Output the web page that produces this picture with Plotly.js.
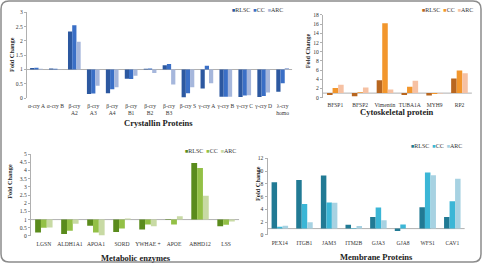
<!DOCTYPE html>
<html><head><meta charset="utf-8">
<script src="https://cdn.plot.ly/plotly-3.0.1.min.js"></script>
<style>html,body{margin:0;padding:0;background:#fff}#chart{width:482px;height:263px}</style>
</head><body><div id="chart"></div>
<script>
// ---- data ----
const seriesNames = ['RLSC', 'CC', 'ARC'];

const crystCats = ['α-cry A', 'α-cry B', 'β-cry<br>A2', 'β-cry<br>A3', 'β-cry<br>A4', 'β-cry<br>B1', 'β-cry<br>B2',
  'β-cry<br>B3', 'β-cry S', 'γ-cry A', 'γ-cry B', 'γ-cry C', 'γ-cry D', 'λ-cry<br>homo'];
const crystRLSC = [1.05, 1.04, 2.33, 0.14, 0.17, 0.68, 1.03, 1.15, 0.03, 0.34, 0.05, 0.04, 0.04, 0.22];
const crystCC   = [1.06, 1.03, 2.55, 0.16, 0.31, 0.67, 1.04, 1.19, 0.17, 1.13, 0.05, 0.09, 0.07, 0.52];
const crystARC  = [1.03, 1.01, 1.97, 0.43, 0.38, 0.78, 0.88, 0.48, 0.38, 0.52, 0.05, 0.10, 0.20, 1.05];

const cytoCats = ['BFSP1', 'BFSP2', 'Vimentin', 'TUBA1A', 'MYH9', 'RP2'];
const cytoRLSC = [0.6, 0.3, 3.8, 0.6, 0.5, 4.2];
const cytoCC   = [2.1, 1.2, 16.2, 2.4, 0.8, 5.9];
const cytoARC  = [2.8, 2.2, 1.8, 3.7, 0.9, 5.3];

const metaCats = ['LGSN', 'ALDH1A1', 'APOA1', 'SORD', 'YWHAE +', 'APOE', 'ABHD12', 'LSS'];
const metaRLSC = [0.22, 0.12, 0.63, 0.25, 0.40, 0.98, 4.45, 0.60];
const metaCC   = [0.50, 0.32, 0.22, 0.45, 0.70, 0.70, 4.15, 0.68];
const metaARC  = [0.52, 0.74, 0.05, 1.07, 0.60, 1.20, 2.45, 0.88];

const membCats = ['PEX14', 'ITGB1', 'JAM3', 'ITM2B', 'GJA3', 'GJA8', 'WFS1', 'CAV1'];
const membRLSC = [8.25, 8.6, 9.3, 1.6, 2.8, 0.63, 4.35, 2.8];
const membCC   = [1.3, 4.85, 5.1, 1.1, 4.3, 1.65, 9.8, 5.3];
const membARC  = [1.45, 2.0, 5.05, 1.4, 2.3, 1.0, 9.35, 8.8];

const baseValue = 1; // fold change baseline

// ---- styles ----
const serif = 'Liberation Serif';
const panels = [
  {cats: crystCats, vals: [crystRLSC, crystCC, crystARC], colors: ['#2c58a0', '#3a6fc6', '#a6b7dc'],
   ax: '', xd: [0.056, 0.606], yd: [0.627, 0.953], yr: [0, 3], dt: 0.5, lx: 0.592, ly: 0.962},
  {cats: cytoCats, vals: [cytoRLSC, cytoCC, cytoARC], colors: ['#b8661f', '#f2962c', '#f6c1a3'],
   ax: '2', xd: [0.670, 0.979], yd: [0.6285, 0.943], yr: [0, 18], dt: 2, lx: 0.985, ly: 0.962},
  {cats: metaCats, vals: [metaRLSC, metaCC, metaARC], colors: ['#5a8b1c', '#93c046', '#c8daa4'],
   ax: '3', xd: [0.064, 0.496], yd: [0.1027, 0.4144], yr: [0, 5], dt: 0.5, lx: 0.494, ly: 0.427},
  {cats: membCats, vals: [membRLSC, membCC, membARC], colors: ['#217a94', '#3bb6d6', '#a7d2e2'],
   ax: '4', xd: [0.555, 0.964], yd: [0.1065, 0.398], yr: [0, 12], dt: 2, lx: 0.963, ly: 0.446}
];

const traces = [];
const layout = {
  width: 482, height: 263,
  margin: {l: 0, r: 0, t: 0, b: 0},
  paper_bgcolor: '#ffffff', plot_bgcolor: 'rgba(0,0,0,0)',
  barmode: 'group', bargap: 0.33, bargroupgap: 0, showlegend: false,
  font: {family: serif, size: 6, color: '#333'},
  shapes: [], annotations: []
};

panels.forEach(p => {
  p.vals.forEach((arr, i) => {
    traces.push({
      type: 'bar', name: seriesNames[i], x: p.cats,
      y: arr.map(v => v - baseValue), base: baseValue,
      marker: {color: p.colors[i], line: {width: 0}},
      xaxis: 'x' + p.ax, yaxis: 'y' + p.ax,
      hoverinfo: 'skip'
    });
  });
  layout['xaxis' + p.ax] = {
    domain: p.xd, anchor: 'y' + p.ax, type: 'category',
    showline: false, showgrid: false, zeroline: false, ticks: '',
    tickfont: {family: serif, size: 5.6, color: '#333'}, tickangle: 0,
    ticklabelstandoff: 3, fixedrange: true
  };
  layout['yaxis' + p.ax] = {
    domain: p.yd, anchor: 'x' + p.ax, range: p.yr, dtick: p.dt,
    showline: true, linecolor: '#b0b0b0', linewidth: 1,
    ticks: 'outside', ticklen: 2, tickcolor: '#b0b0b0',
    showgrid: false, zeroline: false,
    tickfont: {family: serif, size: 5.6, color: '#333'}, fixedrange: true
  };
  // category axis crossing at fold change = 1
  layout.shapes.push({
    type: 'line', xref: 'x' + p.ax + ' domain', yref: 'y' + p.ax,
    x0: 0, x1: 1, y0: baseValue, y1: baseValue,
    line: {color: '#b0b0b0', width: 1}, layer: 'below'
  });
  // compact legend (series key)
  const key = seriesNames.map((n, i) =>
    '<span style="color:' + p.colors[i] + ';font-size:5.5px">■</span>' + n).join('&nbsp; ');
  layout.annotations.push({text: key, x: p.lx, y: p.ly, xref: 'paper', yref: 'paper',
    showarrow: false, xanchor: 'right', yanchor: 'middle',
    font: {family: serif, size: 6, color: '#333'}});
});

const titleFont = {family: serif, size: 8.5, color: '#222'};
const yTitleFont = {family: serif, size: 6.3, color: '#222'};
[
  ['<b>Crystallin Proteins</b>', 0.329, 0.5335],
  ['<b>Cytoskeletal protein</b>', 0.823, 0.575],
  ['<b>Metabolic enzymes</b>', 0.282, 0.020],
  ['<b>Membrane Proteins</b>', 0.781, 0.0217]
].forEach(t => layout.annotations.push({text: t[0], x: t[1], y: t[2], xref: 'paper', yref: 'paper',
  showarrow: false, xanchor: 'center', yanchor: 'middle', font: titleFont}));
[
  [0.0249, 0.791], [0.638, 0.807], [0.0207, 0.3125], [0.5346, 0.303]
].forEach(t => layout.annotations.push({text: '<b>Fold Change</b>', x: t[0], y: t[1], xref: 'paper', yref: 'paper',
  showarrow: false, textangle: -90, xanchor: 'center', yanchor: 'middle', font: yTitleFont}));

// figure frame (rounded border)
layout.shapes.push({
  type: 'path', xref: 'paper', yref: 'paper', xsizemode: 'pixel', ysizemode: 'pixel',
  xanchor: 0, yanchor: 0,
  path: 'M 9,1 L 473,1 Q 481,1 481,9 L 481,254 Q 481,262 473,262 L 9,262 Q 1,262 1,254 L 1,9 Q 1,1 9,1 Z',
  line: {color: '#8c8c8c', width: 1.5}, fillcolor: 'rgba(0,0,0,0)', layer: 'above'
});

Plotly.newPlot('chart', traces, layout, {staticPlot: true, displayModeBar: false});
</script>
</body></html>
